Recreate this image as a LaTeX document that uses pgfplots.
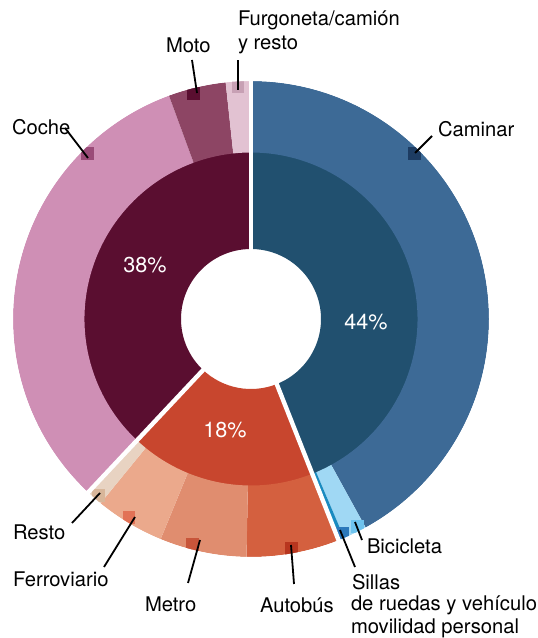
\documentclass[border=0pt]{standalone}
\usepackage{pgfplots}
\pgfplotsset{compat=1.18}
\usepackage{pgfplotstable}
\usetikzlibrary{calc}
\usepackage{fontspec}
\setmainfont{TeX Gyre Heros}

% outer ring
\definecolor{cCam}{HTML}{3D6A96}
\definecolor{cBic}{HTML}{A0D8F4}
\definecolor{cSil}{HTML}{1A8BC0}
\definecolor{cBus}{HTML}{D4603F}
\definecolor{cMet}{HTML}{E08D6F}
\definecolor{cFer}{HTML}{EBA98C}
\definecolor{cRes}{HTML}{E8D3C2}
\definecolor{cCoc}{HTML}{CF8FB5}
\definecolor{cMot}{HTML}{8D4564}
\definecolor{cFur}{HTML}{E2C2D2}
% anchor squares
\definecolor{dCam}{HTML}{1D3C62}
\definecolor{dBic}{HTML}{6EC3EE}
\definecolor{dSil}{HTML}{2C78BA}
\definecolor{dBus}{HTML}{B8361F}
\definecolor{dMet}{HTML}{C8553A}
\definecolor{dFer}{HTML}{E27256}
\definecolor{dRes}{HTML}{D8B69A}
\definecolor{dCoc}{HTML}{9A4B78}
\definecolor{dMot}{HTML}{5A0E30}
\definecolor{dFur}{HTML}{C7A0B4}
% inner ring
\definecolor{iBlu}{HTML}{21506F}
\definecolor{iRed}{HTML}{C8462E}
\definecolor{iMar}{HTML}{5A0E30}

% share (%), fill, square colour, square angle (deg clockwise from top)
\pgfplotstableread{
label pct fill sq ang
Caminar     42.0 cCam dCam 44.6
Bicicleta    1.6 cBic dBic 152.9
Sillas       0.4 cSil dSil 156.9
Autobus      6.3 cBus dBus 169.9
Metro        5.9 cMet dMet 194.5
Ferroviario  4.7 cFer dFer 211.6
Resto        1.1 cRes dRes 220.8
Coche       32.4 cCoc dCoc 315.4
Moto         3.9 cMot dMot 345.8
Furgoneta    1.7 cFur dFur 356.8
}\outerring

\pgfplotstableread{
label pct fill
Caminar 44 iBlu
Publico 18 iRed
Privado 38 iMar
}\innerring

% 1 axis unit = 1 px of the reference = 0.5pt
% #1 start, #2 end (deg clockwise from top), #3 inner r, #4 outer r, #5 colour
\newcommand{\sector}[5]{%
  \fill[#5] ($(axis cs:0,0)+({90-#1}:{#4*0.5pt})$)
    arc[start angle={90-#1}, end angle={90-#2}, radius={#4*0.5pt}]
    -- ($(axis cs:0,0)+({90-#2}:{#3*0.5pt})$)
    arc[start angle={90-#2}, end angle={90-#1}, radius={#3*0.5pt}] -- cycle;}

\tikzset{
  lab/.style={anchor=west, inner sep=0pt, outer sep=0pt, font=\fontsize{10.1}{12}\selectfont},
  pct/.style={inner sep=0pt, text=white, font=\fontsize{10.8}{12}\selectfont},
}

\begin{document}
\begin{tikzpicture}
\begin{axis}[
    x=0.5pt, y=0.5pt,
    xmin=-251, xmax=286, ymin=-319, ymax=319,
    enlargelimits=false,
    hide axis,
    clip=false,
]
% inner ring
\pgfplotstablegetrowsof{\innerring}\pgfmathtruncatemacro\nin{\pgfplotsretval-1}
\def\cum{0}
\pgfplotsforeachungrouped \i in {0,...,\nin}{%
  \pgfplotstablegetelem{\i}{pct}\of\innerring\let\segP\pgfplotsretval
  \pgfplotstablegetelem{\i}{fill}\of\innerring\let\segC\pgfplotsretval
  \pgfmathsetmacro\segA{3.6*\cum}
  \pgfmathsetmacro\cum{\cum+\segP}
  \pgfmathsetmacro\segB{3.6*\cum}
  \edef\temp{\noexpand\sector{\segA}{\segB}{70}{167}{\segC}}\temp
}
% outer ring
\pgfplotstablegetrowsof{\outerring}\pgfmathtruncatemacro\nout{\pgfplotsretval-1}
\def\cum{0}
\pgfplotsforeachungrouped \i in {0,...,\nout}{%
  \pgfplotstablegetelem{\i}{pct}\of\outerring\let\segP\pgfplotsretval
  \pgfplotstablegetelem{\i}{fill}\of\outerring\let\segC\pgfplotsretval
  \pgfmathsetmacro\segA{3.6*\cum}
  \pgfmathsetmacro\cum{\cum+\segP}
  \pgfmathsetmacro\segB{3.6*\cum}
  \edef\temp{\noexpand\sector{\segA}{\segB}{166.5}{238}{\segC}}\temp
}
% anchor squares
\pgfplotsforeachungrouped \i in {0,...,\nout}{%
  \pgfplotstablegetelem{\i}{sq}\of\outerring\let\segC\pgfplotsretval
  \pgfplotstablegetelem{\i}{ang}\of\outerring\let\segA\pgfplotsretval
  \edef\temp{\noexpand\fill[\segC] ($(axis cs:0,0)+({90-\segA}:116.5pt)$)
     +(-3.2pt,-3.2pt) rectangle +(3.2pt,3.2pt);}\temp
}
% trim squares to the outer edge
\fill[white, even odd rule] (axis cs:0,0) circle[radius=119pt]
  (axis cs:0,0) circle[radius=123pt];
% white separators between the groups
\def\cum{0}
\pgfplotsforeachungrouped \i in {0,...,\nin}{%
  \pgfplotstablegetelem{\i}{pct}\of\innerring\let\segP\pgfplotsretval
  \pgfmathsetmacro\segA{90-3.6*\cum}
  \pgfmathsetmacro\cum{\cum+\segP}
  \edef\temp{\noexpand\draw[white, line width=2.2pt]
     ($(axis cs:0,0)+(\segA:34pt)$) -- ($(axis cs:0,0)+(\segA:120pt)$);}\temp
}
% percentages
\node[pct] at (axis cs:115,-3) {44\%};
\node[pct] at (axis cs:-106,54) {38\%};
\node[pct] at (axis cs:-26,-111) {18\%};
% leader lines and labels
\begin{scope}[line width=0.9pt]
\draw (axis cs:164,166) -- (axis cs:181,183);
\node[lab] at (axis cs:187,190) {Caminar};
\draw (axis cs:-163,161) -- (axis cs:-186,191);
\node[lab] at (axis cs:-239,192) {Coche};
\draw (axis cs:-54,226) -- (axis cs:-59,259);
\node[lab] at (axis cs:-85,274) {Moto};
\draw (axis cs:-13,229) -- (axis cs:-13,259);
\node[lab] at (axis cs:-13,299) {Furgoneta/camión};
\node[lab] at (axis cs:-13,274) {y resto};
\draw (axis cs:-151,-174) -- (axis cs:-179,-204);
\node[lab] at (axis cs:-238,-213) {Resto};
\draw (axis cs:-116,-198) -- (axis cs:-147,-248);
\node[lab] at (axis cs:-238,-260) {Ferroviario};
\draw (axis cs:-51,-221) -- (axis cs:-63,-264);
\node[lab] at (axis cs:-106,-285) {Metro};
\draw (axis cs:40,-226) -- (axis cs:43,-265);
\node[lab] at (axis cs:9,-286) {Autobús};
\draw (axis cs:104,-203) -- (axis cs:111,-221);
\node[lab] at (axis cs:116,-227) {Bicicleta};
\draw (axis cs:89,-211) -- (axis cs:104,-248);
\node[lab] at (axis cs:101,-263) {Sillas};
\node[lab] at (axis cs:100,-286) {de ruedas y vehículo};
\node[lab] at (axis cs:100,-309) {movilidad personal};
\end{scope}
\end{axis}
\pgfresetboundingbox
\path[use as bounding box] (current axis.south west) rectangle (current axis.north east);
\end{tikzpicture}
\end{document}
